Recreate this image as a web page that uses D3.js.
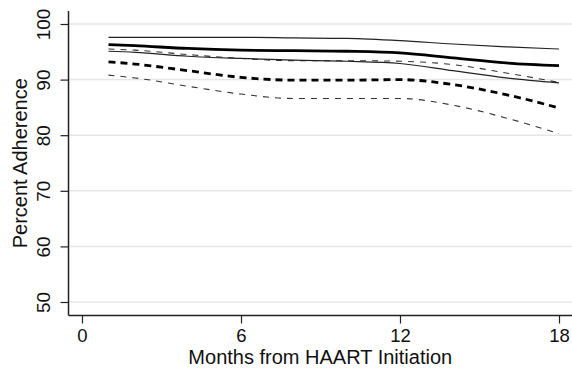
<!DOCTYPE html>
<html>
<head>
<meta charset="utf-8">
<script src="https://cdn.jsdelivr.net/npm/d3@7"></script>
<style>
  body { margin: 0; background: #fff; }
  text { font-family: "Liberation Sans", Arial, sans-serif; fill: #111; }
</style>
</head>
<body>
<div id="chart"></div>
<script>
const months = [1, 2, 4, 6, 8, 10, 12, 14, 16, 18];

// solid group: estimate + band
const solidUpper = [97.6, 97.6, 97.6, 97.6, 97.5, 97.4, 97.0, 96.4, 95.9, 95.5];
const solidEst   = [96.3, 96.1, 95.6, 95.3, 95.2, 95.1, 94.8, 93.9, 93.0, 92.5];
const solidLower = [95.1, 94.9, 94.2, 93.8, 93.5, 93.3, 92.9, 91.6, 90.3, 89.4];

// dashed group: estimate + band
const dashUpper = [95.5, 95.3, 94.5, 93.8, 93.4, 93.4, 93.3, 92.7, 91.2, 89.5];
const dashEst   = [93.2, 92.8, 91.6, 90.4, 89.9, 89.9, 90.0, 89.1, 87.3, 84.9];
const dashLower = [90.8, 90.3, 88.8, 87.4, 86.6, 86.6, 86.6, 85.4, 83.1, 80.3];

const xTicks = [0, 6, 12, 18];
const yTicks = [50, 60, 70, 80, 90, 100];

const W = 572, H = 369;
const svg = d3.select("#chart").append("svg")
    .attr("width", W)
    .attr("height", H);

const x = d3.scaleLinear().domain([0, 18]).range([82, 559]);
const y = d3.scaleLinear().domain([50, 100]).range([302, 24]);

const plotLeft = 68.5, plotBottom = 315.5, plotTop = 11, plotRight = 572;

// gridlines
svg.append("g")
    .selectAll("line")
    .data(yTicks)
    .enter()
    .append("line")
    .attr("x1", plotLeft)
    .attr("x2", plotRight)
    .attr("y1", d => y(d))
    .attr("y2", d => y(d))
    .style("stroke", "#e6e6e6")
    .style("stroke-width", 1.5);

// y axis
let yAxis = svg.append("g")
    .attr("transform", `translate(${plotLeft},0)`)
    .call(d3.axisLeft(y).tickValues(yTicks).tickSize(8).tickSizeOuter(0).tickFormat(d3.format("d")));
yAxis.select(".domain").remove();
yAxis.selectAll(".tick line").style("stroke", "#222").style("stroke-width", 1.2);
yAxis.selectAll(".tick text")
    .attr("transform", "rotate(-90)")
    .attr("x", 0)
    .attr("y", -19)
    .attr("dy", 0)
    .style("text-anchor", "middle")
    .style("font-size", "19px")
    .style("font-family", "Liberation Sans, Arial, sans-serif")
    .style("fill", "#111");

// x axis
let xAxis = svg.append("g")
    .attr("transform", `translate(0,${plotBottom})`)
    .call(d3.axisBottom(x).tickValues(xTicks).tickSize(8).tickSizeOuter(0));
xAxis.select(".domain").remove();
xAxis.selectAll(".tick line").style("stroke", "#222").style("stroke-width", 1.2);
xAxis.selectAll(".tick text")
    .attr("y", 26)
    .attr("dy", 0)
    .style("font-size", "18.5px")
    .style("font-family", "Liberation Sans, Arial, sans-serif")
    .style("fill", "#111");

// axis lines
svg.append("line")
    .attr("x1", plotLeft).attr("x2", plotLeft)
    .attr("y1", plotTop).attr("y2", plotBottom)
    .style("stroke", "#222").style("stroke-width", 1.5);
svg.append("line")
    .attr("x1", plotLeft).attr("x2", plotRight)
    .attr("y1", plotBottom).attr("y2", plotBottom)
    .style("stroke", "#222").style("stroke-width", 1.5);

// titles
svg.append("text")
    .attr("x", (plotLeft + plotRight) / 2)
    .attr("y", 364)
    .style("text-anchor", "middle")
    .style("font-size", "20px")
    .text("Months from HAART Initiation");

svg.append("text")
    .attr("transform", `translate(27,${(plotTop + plotBottom) / 2}) rotate(-90)`)
    .style("text-anchor", "middle")
    .style("font-size", "20px")
    .text("Percent Adherence");

// curves
const series = [
    { vals: dashLower, width: 1.1, dash: "6,6", color: "#333" },
    { vals: dashUpper, width: 1.1, dash: "6,6", color: "#333" },
    { vals: dashEst,   width: 2.8, dash: "7,5", color: "#000" },
    { vals: solidLower, width: 1.2, dash: null, color: "#222" },
    { vals: solidUpper, width: 1.2, dash: null, color: "#222" },
    { vals: solidEst,   width: 2.8, dash: null, color: "#000" }
];

const line = d3.line()
    .x(d => x(d[0]))
    .y(d => y(d[1]))
    .curve(d3.curveMonotoneX);

series.forEach(s => {
    svg.append("path")
        .attr("d", line(months.map((m, i) => [m, s.vals[i]])))
        .style("fill", "none")
        .style("stroke", s.color)
        .style("stroke-width", s.width)
        .style("stroke-dasharray", s.dash);
});
</script>
</body>
</html>
